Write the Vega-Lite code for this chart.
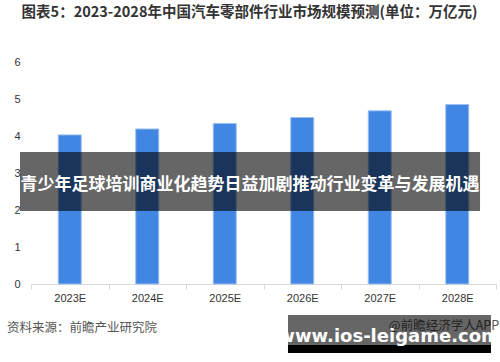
{
  "$schema": "https://vega.github.io/schema/vega-lite/v6.json",
  "width": 465,
  "height": 222,
  "autosize": {"type": "none"},
  "padding": {"left": 31, "top": 62, "right": 4, "bottom": 78},
  "background": "white",
  "config": {
    "view": {"stroke": null},
    "font": "Noto Sans CJK SC"
  },
  "title": {
    "text": "图表5：2023-2028年中国汽车零部件行业市场规模预测(单位：万亿元)",
    "fontSize": 14.5,
    "fontWeight": "bold",
    "color": "#333333",
    "anchor": "middle",
    "baseline": "middle",
    "offset": 29,
    "dx": -14,
    "font": "Noto Sans CJK SC"
  },
  "datasets": {
    "bars": [
      {"year": "2023E", "value": 4.03},
      {"year": "2024E", "value": 4.19},
      {"year": "2025E", "value": 4.34},
      {"year": "2026E", "value": 4.50},
      {"year": "2027E", "value": 4.68},
      {"year": "2028E", "value": 4.85}
    ],
    "banner": [{"x1": -0.142, "x2": 5.794, "y1": 1.97, "y2": 3.57, "label": "青少年足球培训商业化趋势日益加剧推动行业变革与发展机遇", "xc": 2.826, "yc": 2.68}],
    "urlbox": [{"x1": 3.316, "x2": 5.935, "y1": -0.838, "y2": -1.649, "label": "www.ios-leigame.com", "xc": 4.62, "yc": -1.43}],
    "urlstrip": [{"x1": 3.316, "x2": 5.935, "y1": -1.649, "y2": -1.865}],
    "source": [{"x": -0.31, "y": -1.19, "label": "资料来源：前瞻产业研究院"}],
    "app": [{"x": 6.04, "y": -1.14, "label": "@前瞻经济学人APP"}]
  },
  "resolve": {"scale": {"x": "independent", "y": "independent"}, "axis": {"x": "independent", "y": "independent"}},
  "layer": [
    {
      "data": {"name": "bars"},
      "mark": {"type": "bar", "width": 23, "color": "#4186E3", "stroke": "#9cc0f0", "strokeWidth": 1},
      "encoding": {
        "x": {
          "field": "year", "type": "nominal", "sort": null,
          "scale": {"paddingInner": 0, "paddingOuter": 0},
          "axis": {"title": null, "labelAngle": 0, "labelFontSize": 11, "labelColor": "#333333", "labelFont": "Liberation Sans",
                   "domainColor": "#d9d9d9", "tickColor": "#d9d9d9", "tickSize": 5, "tickBand": "extent", "labelPadding": 3, "grid": false}
        },
        "y": {
          "field": "value", "type": "quantitative",
          "scale": {"domain": [0, 6], "nice": false},
          "axis": {"title": null, "values": [0,1,2,3,4,5,6], "labelOverlap": false, "grid": false, "domain": false, "ticks": false,
                   "labelPadding": 11, "labelFontSize": 11, "labelColor": "#333333", "labelFont": "Liberation Sans"}
        }
      }
    },
    {
      "data": {"name": "source"},
      "mark": {"type": "text", "align": "left", "baseline": "middle", "fontSize": 12.5, "color": "#555555", "clip": false},
      "encoding": {
        "x": {"field": "x", "type": "quantitative", "scale": {"domain": [0, 6], "nice": false, "zero": false}, "axis": null},
        "y": {"field": "y", "type": "quantitative", "scale": {"domain": [0, 6], "nice": false, "zero": false}, "axis": null},
        "text": {"field": "label"}
      }
    },
    {
      "data": {"name": "app"},
      "mark": {"type": "text", "align": "right", "baseline": "middle", "fontSize": 12.5, "color": "#555555", "clip": false},
      "encoding": {
        "x": {"field": "x", "type": "quantitative", "scale": {"domain": [0, 6], "nice": false, "zero": false}, "axis": null},
        "y": {"field": "y", "type": "quantitative", "scale": {"domain": [0, 6], "nice": false, "zero": false}, "axis": null},
        "text": {"field": "label"}
      }
    },
    {
      "data": {"name": "banner"},
      "mark": {"type": "rect", "color": "black", "opacity": 0.6, "clip": false},
      "encoding": {
        "x": {"field": "x1", "type": "quantitative", "scale": {"domain": [0, 6], "nice": false, "zero": false}, "axis": null},
        "x2": {"field": "x2"},
        "y": {"field": "y1", "type": "quantitative", "scale": {"domain": [0, 6], "nice": false, "zero": false}, "axis": null},
        "y2": {"field": "y2"}
      }
    },
    {
      "data": {"name": "banner"},
      "mark": {"type": "text", "align": "center", "baseline": "middle", "fontSize": 17, "fontWeight": "bold", "color": "white", "clip": false},
      "encoding": {
        "x": {"field": "xc", "type": "quantitative", "scale": {"domain": [0, 6], "nice": false, "zero": false}, "axis": null},
        "y": {"field": "yc", "type": "quantitative", "scale": {"domain": [0, 6], "nice": false, "zero": false}, "axis": null},
        "text": {"field": "label"}
      }
    },
    {
      "data": {"name": "urlbox"},
      "mark": {"type": "rect", "color": "black", "opacity": 0.6, "clip": false},
      "encoding": {
        "x": {"field": "x1", "type": "quantitative", "scale": {"domain": [0, 6], "nice": false, "zero": false}, "axis": null},
        "x2": {"field": "x2"},
        "y": {"field": "y1", "type": "quantitative", "scale": {"domain": [0, 6], "nice": false, "zero": false}, "axis": null},
        "y2": {"field": "y2"}
      }
    },
    {
      "data": {"name": "urlstrip"},
      "mark": {"type": "rect", "color": "black", "opacity": 1, "clip": false},
      "encoding": {
        "x": {"field": "x1", "type": "quantitative", "scale": {"domain": [0, 6], "nice": false, "zero": false}, "axis": null},
        "x2": {"field": "x2"},
        "y": {"field": "y1", "type": "quantitative", "scale": {"domain": [0, 6], "nice": false, "zero": false}, "axis": null},
        "y2": {"field": "y2"}
      }
    },
    {
      "data": {"name": "urlbox"},
      "mark": {"type": "text", "align": "center", "baseline": "middle", "fontSize": 18, "fontWeight": "bold", "color": "white", "font": "DejaVu Sans", "clip": false},
      "encoding": {
        "x": {"field": "xc", "type": "quantitative", "scale": {"domain": [0, 6], "nice": false, "zero": false}, "axis": null},
        "y": {"field": "yc", "type": "quantitative", "scale": {"domain": [0, 6], "nice": false, "zero": false}, "axis": null},
        "text": {"field": "label"}
      }
    }
  ]
}
